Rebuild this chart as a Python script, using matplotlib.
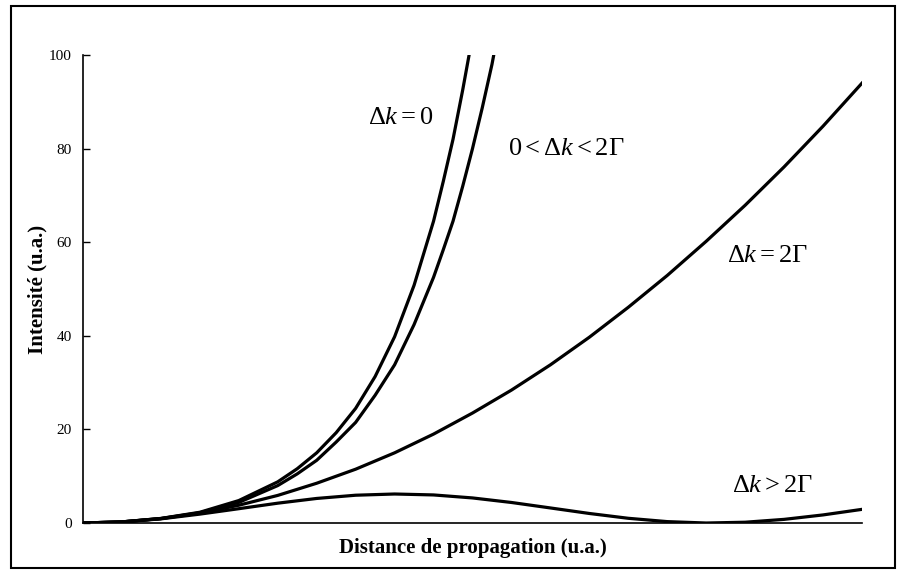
import matplotlib.pyplot as plt
from matplotlib.patches import Rectangle

# ---------------- data (x normalised 0..1) ----------------
t = [0, 0.05, 0.10, 0.15, 0.20, 0.25, 0.30, 0.35, 0.40, 0.45, 0.50,
     0.55, 0.60, 0.65, 0.70, 0.75, 0.80, 0.85, 0.90, 0.95, 1.00]

# delta k = 0
t_dk0 = [0, 0.05, 0.10, 0.15, 0.20, 0.25, 0.275, 0.30, 0.325, 0.35, 0.375,
         0.40, 0.425, 0.45, 0.4625, 0.475, 0.4875, 0.50]
i_dk0 = [0, 0.24, 0.98, 2.3, 4.8, 8.8, 11.6, 15.0, 19.3, 24.5, 31.3,
         39.8, 50.8, 64.5, 73.0, 82.0, 92.6, 104.0]

# 0 < delta k < 2 Gamma
t_dk1 = [0, 0.05, 0.10, 0.15, 0.20, 0.25, 0.275, 0.30, 0.325, 0.35, 0.375,
         0.40, 0.425, 0.45, 0.4625, 0.475, 0.4875, 0.50, 0.5125, 0.525, 0.5375]
i_dk1 = [0, 0.24, 0.96, 2.2, 4.4, 8.0, 10.5, 13.4, 17.3, 21.5, 27.3,
         33.8, 42.4, 52.5, 58.4, 64.5, 72.0, 80.0, 88.7, 98.0, 109.0]

# delta k = 2 Gamma
i_dk2 = [0, 0.24, 0.94, 2.1, 3.8, 5.9, 8.5, 11.5, 15.0, 19.0, 23.5,
         28.4, 33.8, 39.7, 46.1, 52.9, 60.2, 67.9, 76.1, 84.8, 94.0]

# delta k > 2 Gamma
i_dk3 = [0, 0.23, 0.89, 1.9, 3.06, 4.24, 5.25, 5.94, 6.2, 6.0, 5.36,
         4.39, 3.22, 2.04, 1.01, 0.30, 0.0, 0.17, 0.78, 1.73, 2.92]

yticks = [0, 20, 40, 60, 80, 100]

# ---------------- figure ----------------
plt.rcParams['font.family'] = 'Liberation Serif'
plt.rcParams['mathtext.fontset'] = 'custom'
plt.rcParams['mathtext.rm'] = 'Liberation Serif'
plt.rcParams['mathtext.it'] = 'Liberation Serif:italic'

fig = plt.figure(figsize=(9.03, 5.75), dpi=100)
ax = fig.add_axes([0.0919, 0.0904, 0.8627, 0.8139])

lw = 2.3
ax.plot(t_dk0, i_dk0, color='black', lw=lw, solid_joinstyle='round')
ax.plot(t_dk1, i_dk1, color='black', lw=lw, solid_joinstyle='round')
ax.plot(t, i_dk2, color='black', lw=lw, solid_joinstyle='round')
ax.plot(t, i_dk3, color='black', lw=lw, solid_joinstyle='round')

ax.set_xlim(0, 1)
ax.set_ylim(0, 100)
ax.set_xticks([])
ax.set_yticks(yticks)
ax.tick_params(axis='y', direction='in', length=5, width=1, labelsize=11, pad=8)
for s in ['top', 'right']:
    ax.spines[s].set_visible(False)
ax.spines['left'].set_linewidth(1.2)
ax.spines['bottom'].set_linewidth(1.2)

ax.set_ylabel('Intensité (u.a.)', fontsize=15, fontweight='bold', labelpad=1)
ax.set_xlabel('Distance de propagation (u.a.)', fontsize=15, fontweight='bold', labelpad=11)

fs = 19
ax.text(0.408, 86.5, r'$\Delta k = 0$', fontsize=fs, ha='center', va='center')
ax.text(0.62, 80, r'$0 < \Delta k < 2\Gamma$', fontsize=fs, ha='center', va='center')
ax.text(0.878, 57, r'$\Delta k = 2\Gamma$', fontsize=fs, ha='center', va='center')
ax.text(0.885, 8, r'$\Delta k > 2\Gamma$', fontsize=fs, ha='center', va='center')

# frame around the whole chart
fig.patches.append(Rectangle((11 / 903, 7 / 575), 884 / 903, 562 / 575,
                             transform=fig.transFigure, fill=False,
                             edgecolor='black', lw=1.5))

fig.savefig('out.png', dpi=100)
